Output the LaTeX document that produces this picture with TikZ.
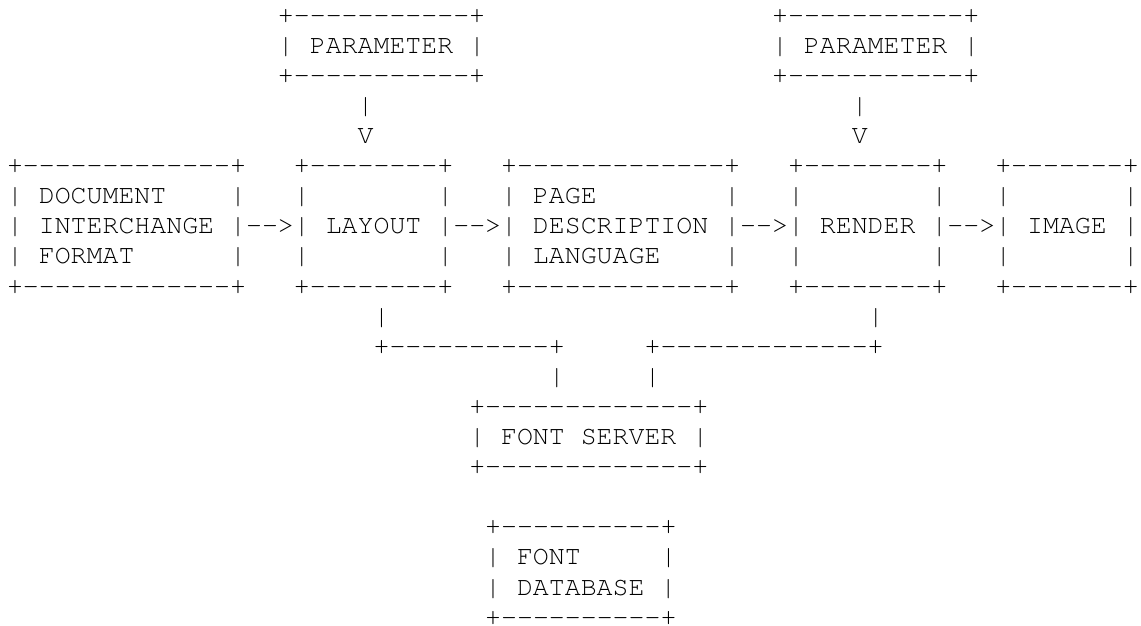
\documentclass[tikz,border=0pt]{standalone}
\usepackage[T1]{fontenc}
\usepackage{courier}

% a run of n hyphens, kept apart so they never join into dashes
\newcommand{\hr}[1]{\foreach \k in {1,...,#1}{-\kern0pt}}

\tikzset{
  asc/.style={anchor=base west, inner sep=0pt, outer sep=0pt,
    font=\ttfamily\fontsize{13.28pt}{15.05pt}\selectfont}
}

\begin{document}
\begin{tikzpicture}[x=7.97pt, y=-15.05pt]
  % one unit = one character cell
  \useasboundingbox (-3.5pt,11.55pt) rectangle (567pt,-301.45pt);

  % parameter boxes and their down arrows
  \foreach \c/\n in {17/1, 48/2} {
    \node[asc] (par\n-top) at (\c,0) {+\hr{11}+};
    \node[asc] (par\n) at (\c,1) {| PARAMETER |};
    \node[asc] (par\n-bot) at (\c,2) {+\hr{11}+};
    \node[asc] (par\n-bar) at (\c+5,3) {|};
    \node[asc] (par\n-tip) at (\c+5,4) {V};
  }

  % document interchange format
  \node[asc] (dif-top) at (0,5) {+\hr{13}+};
  \node[asc] (dif-1) at (0,6) {| DOCUMENT~~~~|};
  \node[asc] (dif-2) at (0,7) {| INTERCHANGE |};
  \node[asc] (dif-3) at (0,8) {| FORMAT~~~~~~|};
  \node[asc] (dif-bot) at (0,9) {+\hr{13}+};

  % layout
  \node[asc] (lay-top) at (18,5) {+\hr{8}+};
  \node[asc] (lay-1) at (18,6) {|~~~~~~~~|};
  \node[asc] (lay-2) at (18,7) {| LAYOUT |};
  \node[asc] (lay-3) at (18,8) {|~~~~~~~~|};
  \node[asc] (lay-bot) at (18,9) {+\hr{8}+};

  % page description language
  \node[asc] (pdl-top) at (31,5) {+\hr{13}+};
  \node[asc] (pdl-1) at (31,6) {| PAGE~~~~~~~~|};
  \node[asc] (pdl-2) at (31,7) {| DESCRIPTION |};
  \node[asc] (pdl-3) at (31,8) {| LANGUAGE~~~~|};
  \node[asc] (pdl-bot) at (31,9) {+\hr{13}+};

  % render
  \node[asc] (ren-top) at (49,5) {+\hr{8}+};
  \node[asc] (ren-1) at (49,6) {|~~~~~~~~|};
  \node[asc] (ren-2) at (49,7) {| RENDER |};
  \node[asc] (ren-3) at (49,8) {|~~~~~~~~|};
  \node[asc] (ren-bot) at (49,9) {+\hr{8}+};

  % image
  \node[asc] (img-top) at (62,5) {+\hr{7}+};
  \node[asc] (img-1) at (62,6) {|~~~~~~~|};
  \node[asc] (img-2) at (62,7) {| IMAGE |};
  \node[asc] (img-3) at (62,8) {|~~~~~~~|};
  \node[asc] (img-bot) at (62,9) {+\hr{7}+};

  % arrows between the boxes
  \foreach \c [count=\i] in {15, 28, 46, 59}
    \node[asc] (arr\i) at (\c,7) {\hr{2}>};

  % links down to the font server
  \node[asc] (lay-bar) at (23,10) {|};
  \node[asc] (ren-bar) at (54,10) {|};
  \node[asc] (lay-run) at (23,11) {+\hr{10}+};
  \node[asc] (ren-run) at (40,11) {+\hr{13}+};
  \node[asc] (lay-drop) at (34,12) {|};
  \node[asc] (ren-drop) at (40,12) {|};

  % font server
  \node[asc] (fs-top) at (29,13) {+\hr{13}+};
  \node[asc] (fs) at (29,14) {| FONT SERVER |};
  \node[asc] (fs-bot) at (29,15) {+\hr{13}+};

  % font database
  \node[asc] (fdb-top) at (30,17) {+\hr{10}+};
  \node[asc] (fdb-1) at (30,18) {| FONT~~~~~|};
  \node[asc] (fdb-2) at (30,19) {| DATABASE |};
  \node[asc] (fdb-bot) at (30,20) {+\hr{10}+};
\end{tikzpicture}
\end{document}
